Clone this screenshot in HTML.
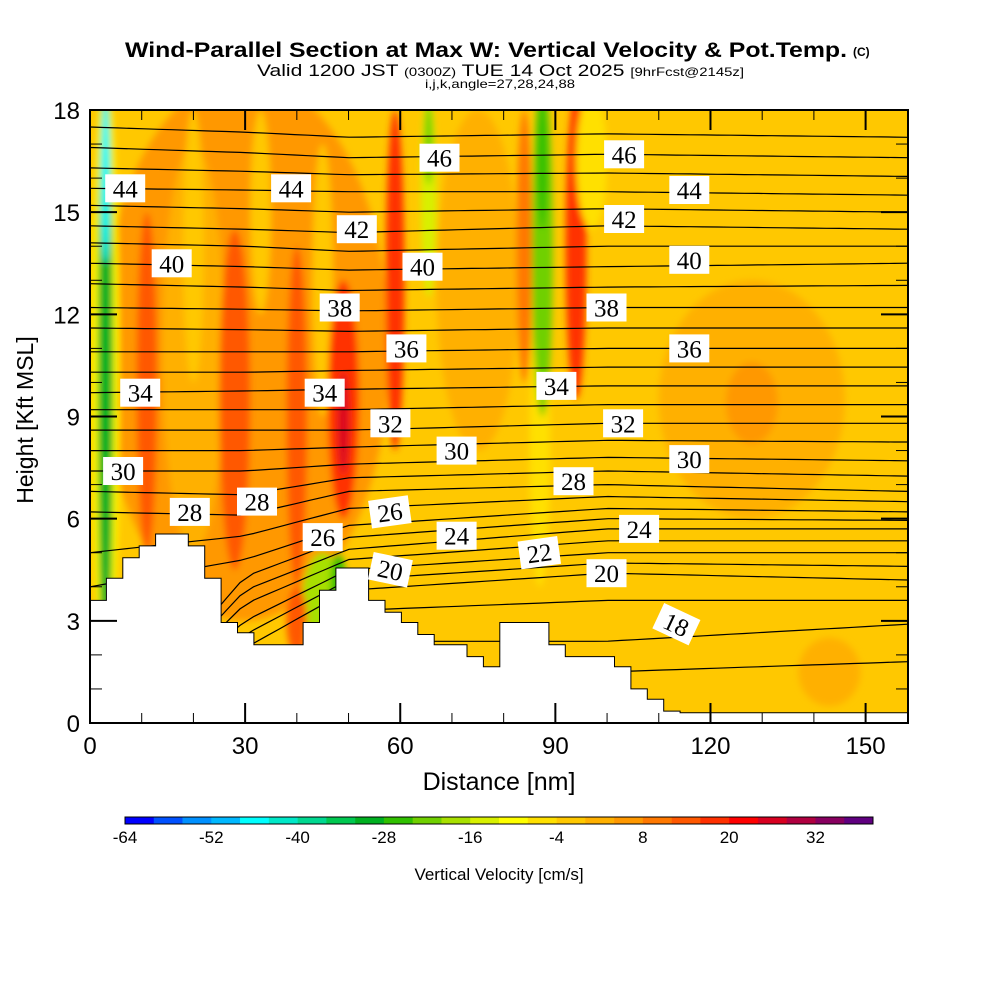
<!DOCTYPE html>
<html><head><meta charset="utf-8"><style>
html,body{margin:0;padding:0;background:#fff;}
svg{display:block;font-family:"Liberation Sans",sans-serif;}
</style></head><body>
<svg id="chart" width="1000" height="1000" viewBox="0 0 1000 1000">
<defs>
<clipPath id="plotclip"><rect x="90" y="110" width="818" height="613"/></clipPath>
<filter id="blur" x="-50%" y="-50%" width="200%" height="200%"><feGaussianBlur stdDeviation="3.5"/></filter>
</defs>
<g id="titles">
<text x="125" y="57" font-size="21" font-weight="bold" textLength="722" lengthAdjust="spacingAndGlyphs">Wind-Parallel Section at Max W: Vertical Velocity &amp; Pot.Temp.</text>
<text x="853" y="56" font-size="12" font-weight="bold">(C)</text>
<text x="257" y="76" font-size="17" textLength="487" lengthAdjust="spacingAndGlyphs">Valid 1200 JST <tspan font-size="12">(0300Z)</tspan> TUE 14 Oct 2025 <tspan font-size="12">[9hrFcst@2145z]</tspan></text>
<text x="425" y="88" font-size="12" textLength="150" lengthAdjust="spacingAndGlyphs">i,j,k,angle=27,28,24,88</text>
</g>
<g id="field" clip-path="url(#plotclip)"></g>
<g id="contours" clip-path="url(#plotclip)"></g>
<g id="terrain" clip-path="url(#plotclip)"></g>
<g id="labels"></g>
<rect x="90" y="110" width="818" height="613" fill="none" stroke="#000" stroke-width="2"/>
<g id="axes"></g>
<text x="499" y="790" font-size="25" text-anchor="middle">Distance [nm]</text>
<text transform="translate(33,420) rotate(-90)" font-size="23" text-anchor="middle">Height [Kft MSL]</text>
<g id="colorbar"></g>
<text x="499" y="880" font-size="17" text-anchor="middle">Vertical Velocity [cm/s]</text>
</svg>
<script>
// ---- data ----
const xTicks=[0,30,60,90,120,150];
const yTicks=[0,3,6,9,12,15,18];
const cbLabels=[-64,-52,-40,-28,-16,-4,8,20,32];
const cbColors=["#0000ff","#0050ff","#0090ff","#00b8ff","#00ffff","#00e8c8","#00d890","#00c850","#00b020","#30c000","#70d000","#a8e000","#d8f000","#ffff00","#ffe000","#ffc800","#ffb000","#ff9800","#ff7800","#ff5800","#ff3000","#ff0000","#d80020","#b00040","#880060","#600080"];
// terrain height (kft) per column of 3.17 nm
const terrainKft=[3.6,4.25,4.85,5.2,5.55,5.55,5.2,4.25,2.95,2.65,2.3,2.3,2.3,2.95,3.9,4.55,4.55,3.6,3.25,2.95,2.6,2.3,2.3,1.95,1.65,2.95,2.95,2.95,2.3,1.95,1.95,1.95,1.65,1.0,0.7,0.35,0.3,0.3,0.3,0.3,0.3,0.3,0.3,0.3,0.3,0.3,0.3,0.3,0.3,0.3,0.3];
// potential temperature contours: height (kft) at nodes x=0,30,50,100,158 nm
const thetaLevels=[17,18,19,20,21,22,23,24,25,26,27,28,29,30,31,32,33,34,35,36,37,38,39,40,41,42,43,44,45,46,47];
const nodeX=[0,30,50,100,158];
const hAt0=[-1,-1,-1,-1,-1,-1,-1,-1,-1,4.0,5.0,6.2,6.8,7.4,8.0,8.6,9.2,9.7,10.3,10.9,11.6,12.2,12.9,13.5,14.1,14.6,15.2,15.7,16.3,16.9,17.5];
const hAt30=[-1,-1,-1,2.2,2.6,3.0,3.5,3.9,4.3,4.8,5.5,6.1,6.7,7.4,8.0,8.6,9.2,9.75,10.3,10.9,11.55,12.15,12.8,13.4,14.0,14.5,15.1,15.65,16.2,16.75,17.35];
const hAt50=[1.0,2.4,3.3,3.9,4.2,4.5,4.8,5.1,5.45,5.8,6.3,6.8,7.2,7.6,8.1,8.6,9.2,9.8,10.35,10.9,11.5,12.1,12.7,13.3,13.85,14.4,15.0,15.6,16.1,16.6,17.2];
const hAt100=[1.5,2.4,3.6,4.4,4.7,5.0,5.35,5.7,6.0,6.3,6.65,7.0,7.4,7.8,8.3,8.8,9.35,9.9,10.45,11.0,11.6,12.2,12.8,13.4,14.0,14.6,15.1,15.6,16.15,16.7,17.3];
const hAt158=[1.8,2.9,3.6,4.2,4.6,5.0,5.35,5.7,5.95,6.2,6.5,6.8,7.25,7.7,8.25,8.8,9.35,9.9,10.45,11.0,11.6,12.2,12.85,13.5,14.0,14.5,15.0,15.5,16.05,16.6,17.2];
// vertical velocity features: x(nm), height(kft), rx(nm), ry(kft), w(cm/s)
const blobX=[30,20,11,28,40,20,33,45,49,49,59,75,65.5,65.5,87,87.5,87.5,84,94,97,128,128,45,48,40,143,3,3,3];
const blobH=[11,11,10,9.5,9,14,15,13,9.5,8.8,13,13,15.5,17,8,14,16.5,14,14,16.5,9.5,9.4,3.5,4,3,1.5,10,10,16];
const blobRX=[28,6,2,3,2,2,2,2,3,1,1.8,8,1.5,0.8,2,2,1,1.5,2,3,18,5,4,1.5,2,6,2.6,1.5,0.8];
const blobRY=[8,6,5,5,5,4,3,4,3.5,1.5,5,5,3,1.2,4,5,2,4,4.5,2,3.5,1.2,1.5,1,1,1,9,9,2.5];
const blobW=[6,2,13,13,13,-4,-4,-4,18,26,18,3,-14,-22,-6,-22,-28,8,18,-8,2,6,-18,-26,14,1,-12,-30,-45];
// contour labels
const labelText=["44","44","46","46","44","42","42","40","40","40","38","38","36","36","34","34","34","32","32","30","30","30","28","28","28","26","26","24","24","22","20","20","18"];
const labelNm=[6.8,38.9,67.6,103.3,115.9,51.6,103.3,15.8,64.3,115.9,48.3,99.9,61.2,115.9,9.7,45.4,90.2,58.1,103.1,6.4,70.9,115.9,19.3,32.3,93.5,45.0,58.0,70.9,106.2,86.9,58.1,99.9,113.4];
const labelKft=[15.7,15.7,16.6,16.7,15.65,14.5,14.8,13.5,13.4,13.6,12.2,12.2,11.0,11.0,9.7,9.7,9.9,8.8,8.8,7.4,8.0,7.75,6.2,6.5,7.1,5.46,6.2,5.5,5.7,5.0,4.5,4.4,2.9];
const labelRot=[0,0,0,0,0,0,0,0,0,0,0,0,0,0,0,0,0,0,0,0,0,0,0,0,0,0,-8,0,0,-8,12,0,25];

// ---- scales ----
const X0=90,X1=908,Y0=723,Y1=110,XMAX=158.2,YMAX=18;
const sx=v=>X0+v*(X1-X0)/XMAX;
const sy=v=>Y0-v*(Y0-Y1)/YMAX;
const NS="http://www.w3.org/2000/svg";
function mk(tag,parent){const e=document.createElementNS(NS,tag);parent.appendChild(e);return e;}
function wColor(w){let i=Math.floor((w+64)/4);i=Math.max(0,Math.min(cbColors.length-1,i));return cbColors[i];}

// field
const field=document.getElementById('field');
const bg=mk('rect',field);


bg.setAttribute('x',X0);bg.setAttribute('y',Y1);bg.setAttribute('width',X1-X0);bg.setAttribute('height',Y0-Y1);bg.setAttribute('fill',wColor(-2));
const fb=mk('g',field);fb.setAttribute('filter','url(#blur)');
for(let i=0;i<blobX.length;i++){
  const e=mk('ellipse',fb);
  
  
  e.setAttribute('cx',sx(blobX[i]));e.setAttribute('cy',sy(blobH[i]));
  e.setAttribute('rx',sx(blobRX[i])-X0);e.setAttribute('ry',Y0-sy(blobRY[i]));
  e.setAttribute('fill',wColor(blobW[i]));
}

// contours
const cg=document.getElementById('contours');
for(let k=0;k<thetaLevels.length;k++){
  const hs=[hAt0[k],hAt30[k],hAt50[k],hAt100[k],hAt158[k]];
  let d='';
  const N=60;
  for(let j=0;j<=N;j++){
    const x=XMAX*j/N;
    let s=0;while(s<nodeX.length-2&&x>nodeX[s+1])s++;
    const t=(x-nodeX[s])/(nodeX[s+1]-nodeX[s]);
    const h=hs[s]+(hs[s+1]-hs[s])*t;
    d+=(j?'L':'M')+sx(x).toFixed(1)+','+sy(h).toFixed(1);
  }
  const p=mk('path',cg);
  
  
  p.setAttribute('d',d);p.setAttribute('fill','none');p.setAttribute('stroke','#000');p.setAttribute('stroke-width','1.2');
}

// terrain
const tg=document.getElementById('terrain');
const colW=3.17;
let td='M'+sx(0)+','+sy(0);
for(let i=0;i<terrainKft.length;i++){
  td+='L'+sx(i*colW).toFixed(1)+','+sy(terrainKft[i]).toFixed(1)+'L'+sx((i+1)*colW).toFixed(1)+','+sy(terrainKft[i]).toFixed(1);
}
td+='L'+sx(XMAX+5)+','+sy(0)+'Z';
const tp=mk('path',tg);


tp.setAttribute('d',td);tp.setAttribute('fill','#fff');tp.setAttribute('stroke','#000');tp.setAttribute('stroke-width','1');

// labels
const lg=document.getElementById('labels');
for(let i=0;i<labelText.length;i++){
  const g=mk('g',lg);
  
  
  g.setAttribute('transform','translate('+sx(labelNm[i]).toFixed(1)+','+sy(labelKft[i]).toFixed(1)+') rotate('+labelRot[i]+')');
  const r=mk('rect',g);r.setAttribute('x',-20);r.setAttribute('y',-14);r.setAttribute('width',40);r.setAttribute('height',28);r.setAttribute('fill','#fff');
  const t=mk('text',g);t.setAttribute('text-anchor','middle');t.setAttribute('y',9);t.setAttribute('font-size','25');
  t.setAttribute('font-family','"Liberation Serif",serif');t.textContent=labelText[i];
}

// axes
const ag=document.getElementById('axes');
function line(x1,y1,x2,y2,w,name){const l=mk('line',ag);l.setAttribute('x1',x1);l.setAttribute('y1',y1);l.setAttribute('x2',x2);l.setAttribute('y2',y2);l.setAttribute('stroke','#000');l.setAttribute('stroke-width',w);}
for(let v=0;v<=150;v+=10){
  const maj=v%30===0;const x=sx(v);const L=maj?20:10;
  line(x,Y0,x,Y0-L,maj?2:1,'x-tick');
  line(x,Y1,x,Y1+L,maj?2:1,'x-tick-top');
}
for(let v=0;v<=18;v++){
  const maj=v%3===0;const y=sy(v);const L=maj?27:12;
  line(X0,y,X0+L,y,maj?2:1,'y-tick');
  line(X1,y,X1-L,y,maj?2:1,'y-tick-right');
}
xTicks.forEach(v=>{const t=mk('text',ag);t.setAttribute('x',sx(v));t.setAttribute('y',754);t.setAttribute('text-anchor','middle');t.setAttribute('font-size','24');t.textContent=v;});
yTicks.forEach(v=>{const t=mk('text',ag);t.setAttribute('x',80);t.setAttribute('y',sy(v)+9);t.setAttribute('text-anchor','end');t.setAttribute('font-size','24');t.textContent=v;});

// colorbar
const cb=document.getElementById('colorbar');
const CB0=125,CB1=873,segW=(CB1-CB0)/cbColors.length;
cbColors.forEach((c,i)=>{const r=mk('rect',cb);r.setAttribute('x',CB0+i*segW);r.setAttribute('y',817);r.setAttribute('width',segW+0.3);r.setAttribute('height',7);r.setAttribute('fill',c);});
const cbf=mk('rect',cb);cbf.setAttribute('x',CB0);cbf.setAttribute('y',817);cbf.setAttribute('width',CB1-CB0);cbf.setAttribute('height',7);cbf.setAttribute('fill','none');cbf.setAttribute('stroke','#000');cbf.setAttribute('stroke-width','1');
cbLabels.forEach(v=>{const t=mk('text',cb);t.setAttribute('x',CB0+(v+64)/4*segW);t.setAttribute('y',843);t.setAttribute('text-anchor','middle');t.setAttribute('font-size','17');t.textContent=v;});
</script>
</body></html>
